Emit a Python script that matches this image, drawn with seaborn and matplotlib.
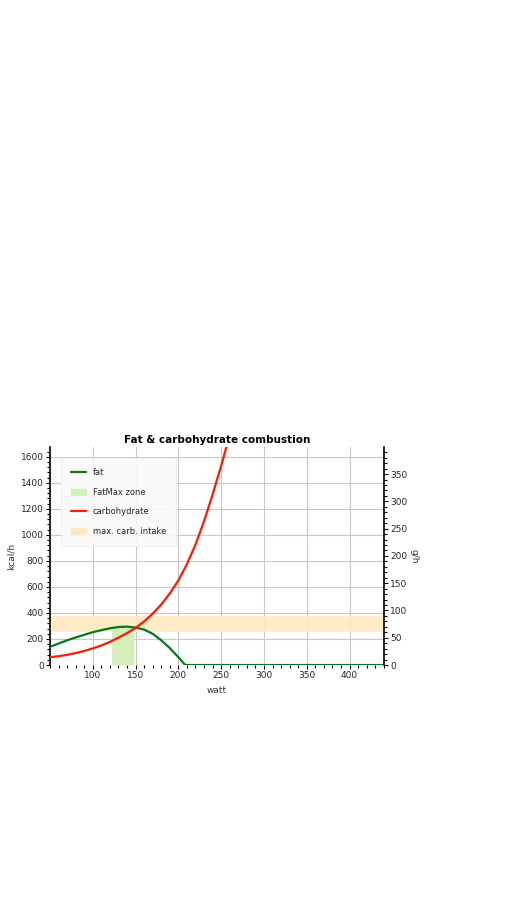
import matplotlib
matplotlib.use('Agg')
import matplotlib.pyplot as plt
from matplotlib.patches import Patch
from matplotlib.lines import Line2D
from matplotlib.ticker import AutoMinorLocator
import pandas as pd
import seaborn as sns

# Значения
watt_fat = [50, 60, 70, 80, 90, 100, 110, 120, 130, 140, 150, 160, 170, 180, 190, 200, 208, 440]
fat = [140, 165, 190, 212, 232, 252, 268, 282, 292, 295, 288, 272, 240, 190, 130, 60, 0, 0]
watt_carb = [50, 60, 70, 80, 90, 100, 110, 120, 130, 140, 150, 160, 170, 180, 190, 200,
             210, 220, 230, 240, 250, 260]
carb = [60, 68, 78, 92, 108, 128, 150, 178, 210, 245, 285, 335, 395, 465, 550, 650,
        775, 925, 1105, 1310, 1530, 1770]
fatmax_zone = (122, 148)
carb_intake = (250, 375)
x_lim = (50, 440)
y_lim = (0, 1675)
kcal_per_g = 4.19

sns.set_style('whitegrid')
plt.rcParams['font.family'] = ['DejaVu Sans']
plt.rcParams['font.size'] = 7

fig = plt.figure(figsize=(5.05, 8.97), dpi=100)
ax = fig.add_axes([0.099, 0.2586, 0.661, 0.2431])

ax.axhspan(*carb_intake, color='#ffe9c2', alpha=0.9, lw=0, zorder=1)
zone = pd.DataFrame({'watt': watt_fat, 'fat': fat})
zone = zone[(zone.watt >= fatmax_zone[0]) & (zone.watt <= fatmax_zone[1])]
xs = [fatmax_zone[0]] + list(zone.watt) + [fatmax_zone[1]]
ys = [282] + list(zone.fat) + [288]
ax.fill_between(xs, 0, ys, color='#d5efb9', lw=0, zorder=2)

sns.lineplot(x=watt_fat, y=fat, ax=ax, color='#007a1a', lw=1.6, zorder=3)
sns.lineplot(x=watt_carb, y=carb, ax=ax, color='#ff1a00', lw=1.6, zorder=4)

ax.set_xlim(*x_lim)
ax.set_ylim(*y_lim)
ax.set_title('Fat & carbohydrate combustion', fontweight='bold', fontsize=7.5, pad=3,
             color='black')
ax.set_xlabel('watt', fontsize=6.5, color='#333333')
ax.set_ylabel('kcal/h', fontsize=6.5, color='#333333')
ax.set_yticks(range(0, 1601, 200))
ax.set_xticks(range(100, 401, 50))
ax.grid(color='#c8c8c8', lw=0.8)
for s in ax.spines.values():
    s.set_visible(False)
ax.spines['left'].set_visible(True)
ax.spines['left'].set_color('black')
ax.spines['left'].set_linewidth(1.2)
ax.xaxis.set_minor_locator(AutoMinorLocator(5))
ax.yaxis.set_minor_locator(AutoMinorLocator(5))
ax.tick_params(which='both', direction='out', length=3, width=0.8, color='black',
               bottom=True, left=True, labelsize=6.5, pad=1.5)
ax.tick_params(which='minor', length=2)

ax2 = ax.twinx()
ax2.set_ylim(y_lim[0] / kcal_per_g, y_lim[1] / kcal_per_g)
ax2.set_yticks(range(0, 351, 50))
ax2.set_ylabel('g/h', fontsize=6.5, rotation=270, labelpad=8, color='#333333')
ax2.grid(False)
for s in ax2.spines.values():
    s.set_visible(False)
ax2.spines['right'].set_visible(True)
ax2.spines['right'].set_color('black')
ax2.spines['right'].set_linewidth(1.2)
ax2.yaxis.set_minor_locator(AutoMinorLocator(5))
ax2.tick_params(which='both', direction='out', length=3, width=0.8, color='black',
                right=True, labelsize=6.5, pad=1.5)
ax2.tick_params(which='minor', length=2)

handles = [Line2D([], [], color='#007a1a', lw=1.6),
           Patch(color='#d5efb9'),
           Line2D([], [], color='#ff1a00', lw=1.6),
           Patch(color='#ffe9c2')]
labels = ['fat', 'FatMax zone', 'carbohydrate', 'max. carb. intake']
leg = ax.legend(handles, labels, loc='upper left', fontsize=6, frameon=True,
                borderpad=1.2, labelspacing=1.3, handlelength=1.8,
                bbox_to_anchor=(0.02, 0.97), fancybox=False)
leg.get_frame().set_edgecolor('#eeeeee')
leg.get_frame().set_facecolor('#fafafa')
leg.get_frame().set_alpha(0.9)

fig.savefig('out.png', dpi=100)
